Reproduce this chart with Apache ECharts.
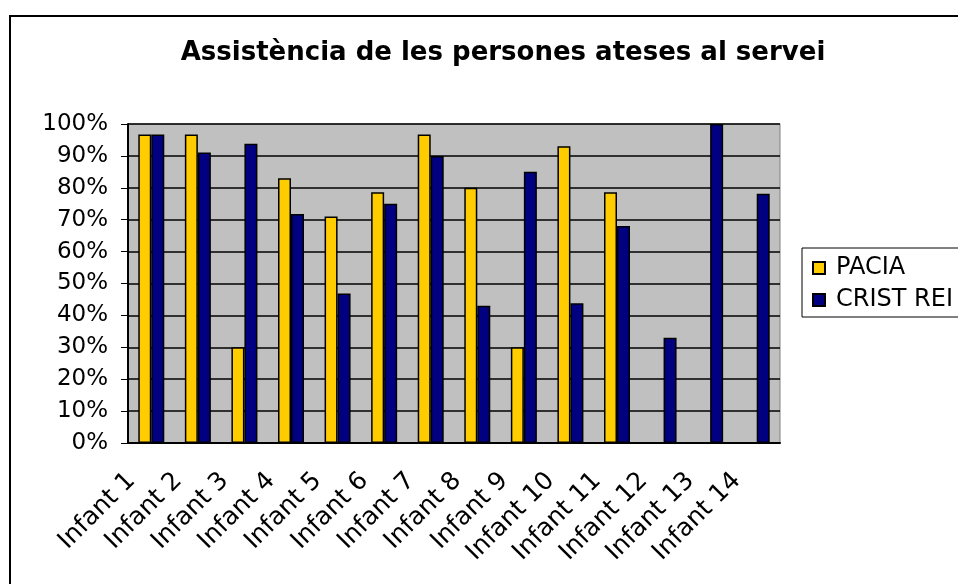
<!DOCTYPE html>
<html>
<head>
<meta charset="utf-8">
<script src="https://cdn.jsdelivr.net/npm/echarts@6/dist/echarts.min.js"></script>
<style>
  html, body { margin: 0; padding: 0; background: #fff; }
  #main { width: 958px; height: 584px; }
</style>
</head>
<body>
<div id="main"></div>
<script>
// dades llegides del gràfic
var infants = ['Infant 1', 'Infant 2', 'Infant 3', 'Infant 4', 'Infant 5', 'Infant 6', 'Infant 7',
               'Infant 8', 'Infant 9', 'Infant 10', 'Infant 11', 'Infant 12', 'Infant 13', 'Infant 14'];
var pacia = [96.7, 96.7, 30, 83, 71, 78.6, 96.7, 80, 30, 93, 78.6, null, null, null];
var cristRei = [96.7, 91.1, 93.8, 71.8, 46.9, 75, 90, 43, 85, 43.8, 68, 33, 100, 78.1];

var myChart = echarts.init(document.getElementById('main'));

var font = 'DejaVu Sans';

var option = {
    animation: false,
    textStyle: {fontFamily: font},
    title: {
        text: 'Assistència de les persones ateses al servei',
        left: 498,
        top: 35,
        textAlign: 'center',
        textStyle: {fontFamily: font, fontSize: 26, fontWeight: 'bold', color: '#000'}
    },
    // marc exterior
    graphic: [{
        type: 'rect',
        shape: {x: 10, y: 16, width: 1000, height: 700},
        style: {fill: 'none', stroke: '#000', lineWidth: 2},
        silent: true
    }],
    legend: {
        orient: 'vertical',
        left: 802,
        top: 248,
        padding: [8, 40, 5, 10],
        itemGap: 8,
        itemWidth: 12,
        itemHeight: 12,
        borderColor: '#000',
        borderWidth: 1,
        backgroundColor: '#fff',
        icon: 'rect',
        textStyle: {fontFamily: font, fontSize: 24, color: '#000', lineHeight: 24, padding: [0, 0, 0, 6]},
        data: ['PACIA', 'CRIST REI']
    },
    grid: {
        left: 128,
        right: 178,
        top: 124,
        bottom: 141,
        show: true,
        backgroundColor: '#c0c0c0',
        borderColor: '#808080',
        borderWidth: 1
    },
    xAxis: {
        type: 'category',
        data: infants,
        axisLine: {lineStyle: {color: '#000', width: 2}},
        axisTick: {length: 7, lineStyle: {color: '#000'}},
        axisLabel: {
            interval: 0,
            rotate: 45,
            margin: 14,
            padding: [0, 28, 0, 0],
            fontFamily: font,
            fontSize: 25,
            color: '#000'
        }
    },
    yAxis: {
        type: 'value',
        min: 0,
        max: 100,
        interval: 10,
        axisLine: {show: true, lineStyle: {color: '#000', width: 2}},
        axisTick: {show: true, length: 7, lineStyle: {color: '#000'}},
        axisLabel: {formatter: '{value}%', margin: 20, fontFamily: font, fontSize: 23, color: '#000'},
        splitLine: {lineStyle: {color: '#000', width: 1.5}}
    },
    series: [
        {
            name: 'PACIA',
            type: 'bar',
            data: pacia,
            barWidth: 13,
            barGap: '0%',
            itemStyle: {color: '#ffcc00', borderColor: '#000', borderWidth: 1.5}
        },
        {
            name: 'CRIST REI',
            type: 'bar',
            data: cristRei,
            barWidth: 13,
            itemStyle: {color: '#000080', borderColor: '#000', borderWidth: 1.5}
        }
    ]
};

myChart.setOption(option);

window.onresize = function () {
    myChart.resize();
};
</script>
</body>
</html>
